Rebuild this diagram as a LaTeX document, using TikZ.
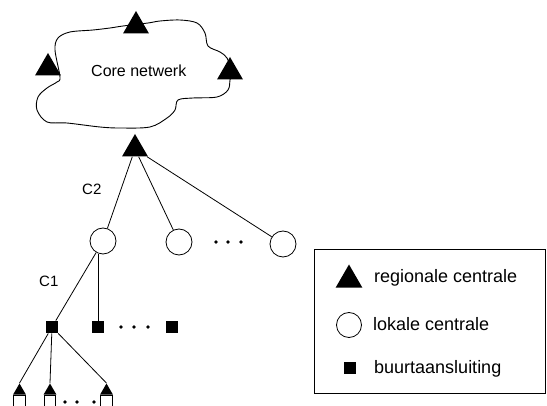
\documentclass[tikz,border=0pt]{standalone}
\usepackage{fontspec}
\setmainfont{Liberation Sans}
\usetikzlibrary{shapes.geometric}
\tikzset{
  tri/.style={regular polygon, regular polygon sides=3, fill=black, draw=none, minimum size=30pt, inner sep=0pt},
  roof/.style={regular polygon, regular polygon sides=3, fill=black, draw=none, minimum size=15pt, inner sep=0pt},
  lokaal/.style={circle, draw=black, fill=white, minimum size=26pt, inner sep=0pt, line width=0.8pt},
  buurt/.style={rectangle, fill=black, minimum size=12.5pt, inner sep=0pt},
  punt/.style={circle, fill=black, minimum size=3.6pt, inner sep=0pt},
  wall/.style={draw=black, fill=white, line width=0.8pt},
  lbl/.style={inner sep=0pt, anchor=base west},
  conn/.style={draw=black, line width=0.8pt},
}
\begin{document}
\begin{tikzpicture}[x=1pt, y=-1pt]
\useasboundingbox (0,0) rectangle (547,406);
\clip (0,0) rectangle (547,406);
% cloud
\draw[line width=0.9pt, fill=white] plot[smooth cycle, tension=0.55] coordinates {
 (60,77) (55,50) (58,38) (70,32) (93,30) (110,28) (123,26) (148,23) (160,21) (180,20)
 (197,23) (205,33) (208,46) (220,52) (227,58) (231,70) (230,80) (228,90) (217,97)
 (193,98) (178,100) (175,110) (167,118) (150,127) (120,128) (100,127) (67,123)
 (47,122) (37,110) (38,97) (47,88) (57,82)};
\node[lbl, font=\fontsize{16}{19}\selectfont] (core) at (91,77) {Core netwerk};
% regional centrals on the cloud
\node[tri] (tt) at (136,26) {};
\node[tri] (tl) at (48,68) {};
\node[tri] (tr) at (230,72) {};
\node[tri] (tb) at (135,149) {};
% local centrals
\node[lokaal] (c1) at (103,241) {};
\node[lokaal] (c2) at (179,242) {};
\node[lokaal] (c3) at (283,244) {};
\node[punt] (d1) at (216,242) {};
\node[punt] (d2) at (228,242) {};
\node[punt] (d3) at (241,242) {};
\draw[conn] (tb) -- (c1);
\draw[conn] (tb) -- (c2);
\draw[conn] (tb) -- (c3);
\node[lbl, font=\fontsize{15}{18}\selectfont] (lc2) at (82,195) {C2};
% neighbourhood connections
\node[buurt] (s1) at (52,327) {};
\node[buurt] (s2) at (98,327) {};
\node[buurt] (s3) at (172,327) {};
\node[punt] (e1) at (121,327) {};
\node[punt] (e2) at (134,327) {};
\node[punt] (e3) at (148,327) {};
\draw[conn] (c1) -- (s1);
\draw[conn] (c1.south -| s2) -- (s2);
\node[lbl, font=\fontsize{15}{18}\selectfont] (lc1) at (39,287) {C1};
% houses
\draw[wall] (13.5,395) rectangle (25,412);
\draw[wall] (44,395) rectangle (55.5,412);
\draw[wall] (100.5,395) rectangle (112,412);
\node[roof] (h1) at (19.5,391) {};
\node[roof] (h2) at (50,391) {};
\node[roof] (h3) at (106.5,391) {};
\node[punt] (f1) at (65,402) {};
\node[punt] (f2) at (77,402) {};
\node[punt] (f3) at (94,402) {};
\draw[conn] (s1) -- (h1.corner 1);
\draw[conn] (s1) -- (h2.corner 1);
\draw[conn] (s1) -- (h3.corner 1);
% legend
\draw[line width=0.9pt] (314,249) rectangle (545.5,393);
\node[tri, minimum size=31pt] (lt) at (349,280) {};
\node[lokaal, minimum size=25pt] (lk) at (349,325) {};
\node[buurt] (lb) at (350,368) {};
\node[lbl, font=\fontsize{18}{21}\selectfont] (t1) at (374,283) {regionale centrale};
\node[lbl, font=\fontsize{18}{21}\selectfont] (t2) at (373,331) {lokale centrale};
\node[lbl, font=\fontsize{18}{21}\selectfont] (t3) at (374,374) {buurtaansluiting};
\end{tikzpicture}
\end{document}
